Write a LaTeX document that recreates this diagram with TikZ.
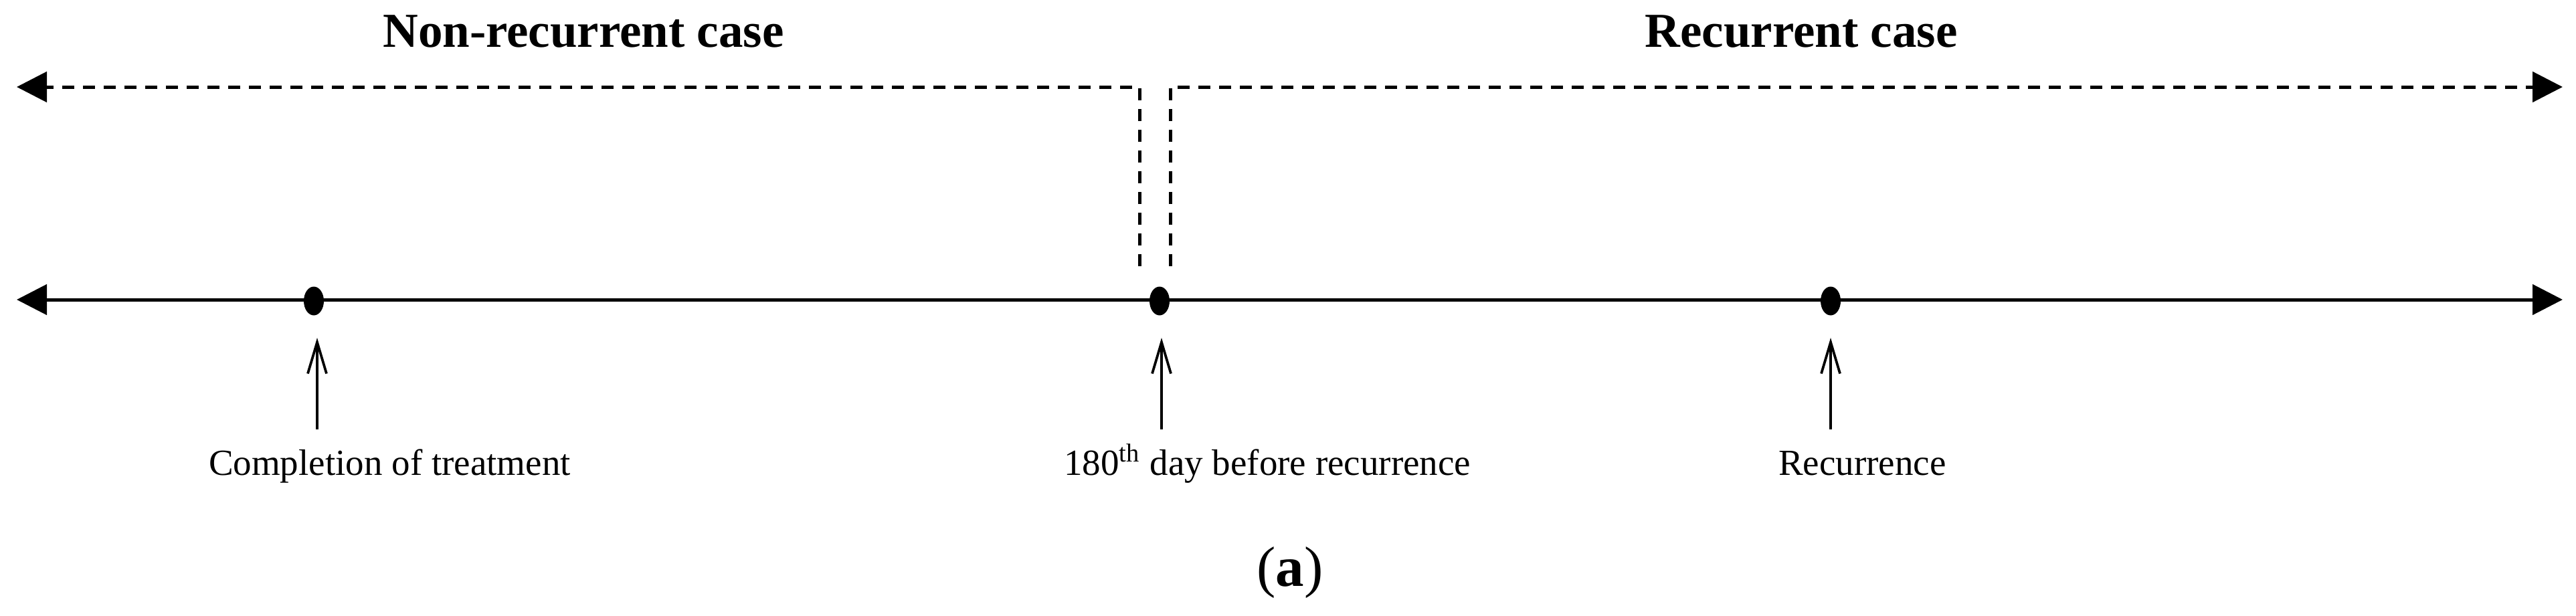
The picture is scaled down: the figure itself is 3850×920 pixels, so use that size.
\documentclass[tikz,border=0pt]{standalone}
\usepackage{fontspec}
\setmainfont{Liberation Serif}
\usetikzlibrary{arrows.meta,shapes.geometric}
\begin{document}
\begin{tikzpicture}[x=0.2pt,y=-0.2pt,
  tri/.tip={Triangle[length=9pt,width=9pt]},
  axis/.style={line width=1pt, tri-tri},
  span/.style={line width=1pt, dash pattern=on 3.6pt off 2.6pt, -tri},
  evt/.style={ellipse, fill=black, inner sep=0pt, minimum width=6pt, minimum height=8.6pt},
  pointer/.style={line width=0.75pt, -{Straight Barb[length=9.4pt,width=5.6pt]}},
  lbl/.style={anchor=base west, font=\fontsize{11}{13}\selectfont, inner sep=0pt},
  ttl/.style={anchor=base, font=\fontsize{14.6}{17}\selectfont\bfseries, inner sep=0pt}]
\useasboundingbox (0,0) rectangle (3850,920);

% titles
\node[ttl] (tNon) at (872,70) {Non-recurrent case};
\node[ttl] (tRec) at (2692,70) {Recurrent case};

% dashed spans
\coordinate (nA) at (1703,398);
\coordinate (nB) at (1703,130);
\coordinate (nC) at (25,130);
\coordinate (rA) at (1749,398);
\coordinate (rB) at (1749,130);
\coordinate (rC) at (3830,130);
\draw[span] (nA) -- (nB) -- (nC);
\draw[span] (rA) -- (rB) -- (rC);

% time axis
\coordinate (axL) at (25,448);
\coordinate (axR) at (3830,448);
\draw[axis] (axL) -- (axR);

% events
\node[evt] (d1) at (469,450) {};
\node[evt] (d2) at (1733,450) {};
\node[evt] (d3) at (2736,450) {};

% pointers
\coordinate (p1) at (474,642);
\coordinate (q1) at (474,505);
\coordinate (p2) at (1736,642);
\coordinate (q2) at (1736,505);
\coordinate (p3) at (2736,642);
\coordinate (q3) at (2736,505);
\draw[pointer] (p1) -- (q1);
\draw[pointer] (p2) -- (q2);
\draw[pointer] (p3) -- (q3);

% labels
\node[lbl] (l1) at (311,710) {Completion of treatment};
\node[lbl] (l2) at (1589,710) {180\textsuperscript{th} day before recurrence};
\node[lbl] (l3) at (2657,710) {Recurrence};

% caption
\node[anchor=base, inner sep=0pt, font=\fontsize{17}{20}\selectfont] (cap) at (1928,876) {(\textbf{a})};
\end{tikzpicture}
\end{document}
